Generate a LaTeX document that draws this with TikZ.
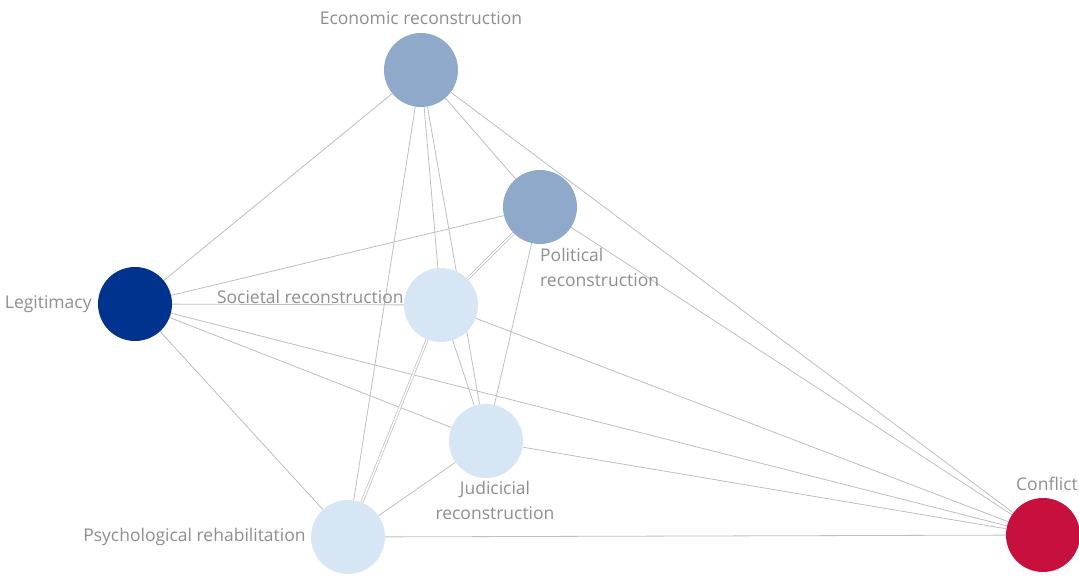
\documentclass[tikz,border=0pt]{standalone}
\usepackage{fontspec}
\setmainfont{Open Sans}
\usepackage{xcolor}
\definecolor{cnavy}{HTML}{00338D}
\definecolor{csteel}{HTML}{8EA9C9}
\definecolor{cpale}{HTML}{D6E6F4}
\definecolor{ccrim}{HTML}{C8103E}
\definecolor{cedge}{HTML}{BEBEBE}
\definecolor{ctext}{HTML}{8E8E8E}
\usetikzlibrary{positioning,backgrounds}

\begin{document}
\begin{tikzpicture}[
  x=1pt, y=-1pt,
  factor/.style={circle, minimum size=74pt, inner sep=0pt, draw=none},
  steel/.style={factor, fill=csteel},
  pale/.style={factor, fill=cpale},
  lbl/.style={text=ctext, font=\fontsize{17.5}{25}\selectfont, inner sep=0pt},
  link/.style={draw=cedge, line width=0.8pt},
  twin/.style={draw=cedge, line width=0.7pt, double=white, double distance=1.5pt},
]
  \useasboundingbox (0,0) rectangle (1079,576);

  % factors
  \node[steel] (econ) at (421,70) {};
  \node[steel] (pol) at (540,207) {};
  \node[factor, fill=cnavy] (legit) at (135,304) {};
  \node[pale] (soc) at (441,305) {};
  \node[pale] (jud) at (486,441) {};
  \node[pale] (psy) at (348,537) {};
  \node[factor, fill=ccrim] (confl) at (1043,535) {};

  % labels
  \node[lbl, above=8pt of econ] (econlbl) {Economic reconstruction};
  \node[lbl, anchor=north west, align=left] (pollbl) at ([yshift=-4pt]pol.south) {Political\\reconstruction};
  \node[lbl, left=6pt of legit] (legitlbl) {Legitimacy};
  \node[lbl, anchor=east] (soclbl) at ([yshift=8pt]soc.west) {Societal reconstruction};
  \node[lbl, below=3pt of jud, xshift=9pt, align=center] (judlbl) {Judicicial\\reconstruction};
  \node[lbl, left=5pt of psy] (psylbl) {Psychological rehabilitation};
  \node[lbl, above=7pt of confl, xshift=4pt] (confllbl) {Conflict};

  % links
  \begin{scope}[on background layer]
    \draw[link] (econ) -- (legit);
    \draw[link] (econ) -- (psy);
    \draw[link] (econ) -- (soc);
    \draw[link] (econ) -- (jud);
    \draw[link] (econ) -- (pol);
    \draw[link] (econ) -- (confl);
    \draw[link] (pol) -- (legit);
    \draw[twin] (pol) -- (soc);
    \draw[link] (pol) -- (jud);
    \draw[link] (pol) -- (confl);
    \draw[link] (legit) -- (soc);
    \draw[link] (legit) -- (jud);
    \draw[link] (legit) -- (confl);
    \draw[link] (legit) -- (psy);
    \draw[twin] (soc) -- (psy);
    \draw[link] (soc) -- (jud);
    \draw[link] (soc) -- (confl);
    \draw[link] (jud) -- (psy);
    \draw[link] (jud) -- (confl);
    \draw[link] (psy) -- (confl);
  \end{scope}
\end{tikzpicture}
\end{document}
